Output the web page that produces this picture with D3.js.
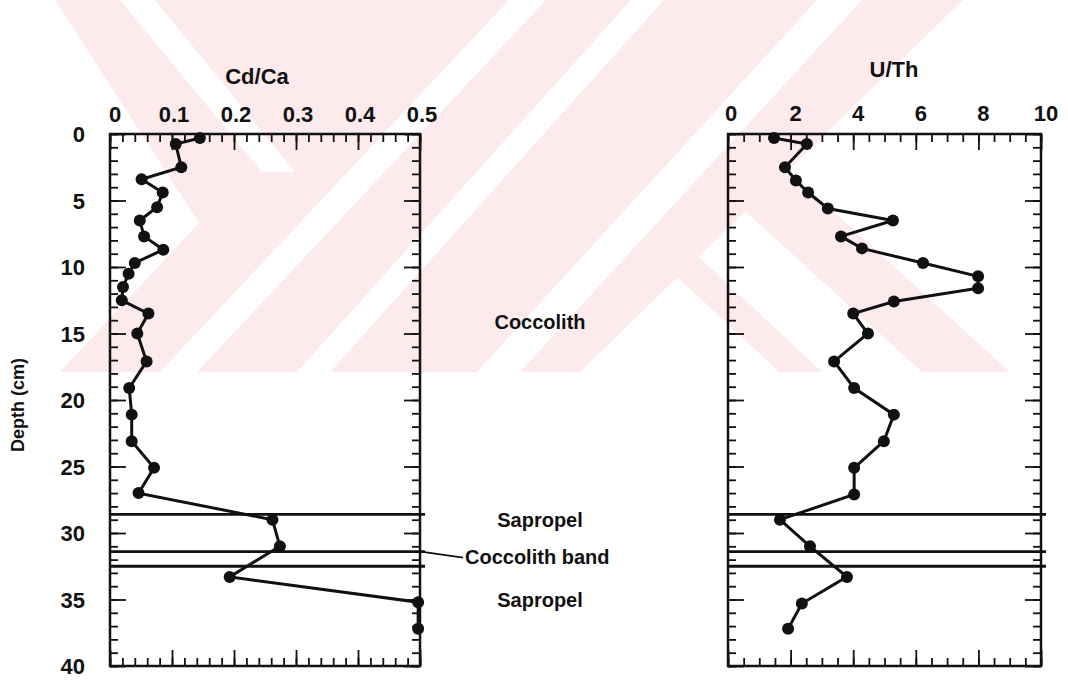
<!DOCTYPE html>
<html>
<head>
<meta charset="utf-8">
<title>Cd/Ca and U/Th vs depth</title>
<script src="https://d3js.org/d3.v7.min.js"></script>
<style>
  body { margin: 0; background: #fff; }
  text { font-family: "Liberation Sans", Arial, sans-serif; font-weight: bold; fill: #111; }
</style>
</head>
<body>
<svg id="chart"></svg>
<script>
// ---- data ----
var depthCd = [0.3, 0.75, 2.5, 3.4, 4.4, 5.5, 6.5, 7.7, 8.7, 9.7, 10.5, 11.5, 12.5, 13.5, 15, 17.1, 19.1, 21.1, 23.1, 25.1, 27, 29, 31, 33.3, 35.2, 37.2];
var cdCa    = [0.145, 0.106, 0.115, 0.051, 0.085, 0.076, 0.048, 0.055, 0.086, 0.040, 0.030, 0.021, 0.019, 0.062, 0.044, 0.059, 0.031, 0.035, 0.035, 0.071, 0.046, 0.262, 0.274, 0.193, 0.497, 0.497];

var depthUTh = [0.3, 0.75, 2.5, 3.5, 4.4, 5.6, 6.5, 7.7, 8.6, 9.7, 10.7, 11.6, 12.6, 13.5, 15, 17.1, 19.1, 21.1, 23.1, 25.1, 27.1, 29, 31, 33.3, 35.3, 37.2];
var uTh      = [1.47, 2.52, 1.82, 2.17, 2.56, 3.19, 5.27, 3.61, 4.28, 6.23, 7.99, 7.99, 5.30, 4.0, 4.47, 3.39, 4.03, 5.3, 4.98, 4.03, 4.03, 1.66, 2.62, 3.8, 2.36, 1.92];

var bandDepths = [28.6, 31.4, 32.5];
var depthTicks = [0, 5, 10, 15, 20, 25, 30, 35, 40];
var cdTicks = [0, 0.1, 0.2, 0.3, 0.4, 0.5];
var uThTicks = [0, 2, 4, 6, 8, 10];
var layerLabels = [
  {text: "Coccolith", depth: 14.1},
  {text: "Sapropel", depth: 29.0},
  {text: "Sapropel", depth: 35.0}
];

var W = 1068, H = 683;
var svg = d3.select("#chart").attr("width", W).attr("height", H);
svg.append("rect").attr("width", W).attr("height", H).attr("fill", "#fff");

// faint pink watermark of the scanned page, cut off at y=372
svg.append("clipPath").attr("id", "wmclip").append("rect")
  .attr("x", 0).attr("y", 0).attr("width", W).attr("height", 372);
var wm = svg.append("g").attr("clip-path", "url(#wmclip)");
var wmPink = [
  [[55,0],[963,0],[580,372],[60,372],[199,223]],
  [[381,0],[424,0],[822,372],[779,372]],
  [[513,0],[601,0],[1010,372],[922,372]]
];
var wmWhite = [
  [[120,0],[155,0],[295,172],[262,172]],
  [[509,0],[546,0],[197,372],[160,372]],
  [[631,0],[664,0],[330,372],[297,372]],
  [[817,0],[862,0],[520,372],[477,372]]
];
wmPink.forEach(function(p){ wm.append("polygon").attr("points", p.join(" ")).attr("fill", "#fdeaed"); });
wmWhite.forEach(function(p){ wm.append("polygon").attr("points", p.join(" ")).attr("fill", "#fff"); });

var y = d3.scaleLinear().domain([0, 40]).range([134, 666]);

function panel(opts){
  var x = d3.scaleLinear().domain(opts.domain).range(opts.range);
  var g = svg.append("g");
  var x0 = opts.range[0], x1 = opts.range[1], y0 = y(0), y1 = y(40);

  var minorX = d3.range(opts.domain[0], opts.domain[1] + 1e-9, opts.minor);
  var minorY = d3.range(0, 40.001, 1);
  // inward ticks on all four sides
  function ticksAxis(axis, scale, vals, size, tr){
    g.append("g").attr("transform", tr)
      .call(axis(scale).tickValues(vals).tickSize(-size).tickFormat(""))
      .call(function(s){ s.select(".domain").remove(); s.selectAll("line").attr("stroke", "#111").attr("stroke-width", 1.8); });
  }
  ticksAxis(d3.axisTop, x, minorX, 8, "translate(0," + y0 + ")");
  ticksAxis(d3.axisBottom, x, minorX, 8, "translate(0," + y1 + ")");
  ticksAxis(d3.axisTop, x, opts.ticks, 16, "translate(0," + y0 + ")");
  ticksAxis(d3.axisBottom, x, opts.ticks, 16, "translate(0," + y1 + ")");
  ticksAxis(d3.axisLeft, y, minorY, 8, "translate(" + x0 + ",0)");
  ticksAxis(d3.axisRight, y, minorY, 8, "translate(" + x1 + ",0)");
  ticksAxis(d3.axisLeft, y, depthTicks, 16, "translate(" + x0 + ",0)");
  ticksAxis(d3.axisRight, y, depthTicks, 16, "translate(" + x1 + ",0)");

  g.append("rect").attr("x", x0).attr("y", y0).attr("width", x1 - x0).attr("height", y1 - y0)
    .attr("fill", "none").attr("stroke", "#111").attr("stroke-width", 2.5);

  g.selectAll(".tl").data(opts.ticks).enter().append("text")
    .attr("x", function(d){ return x(d) + opts.labelDx(d); }).attr("y", opts.labelY)
    .attr("text-anchor", "middle").style("font-size", "22px")
    .text(opts.fmt);

  g.append("text").attr("x", opts.titleX).attr("y", opts.titleY)
    .attr("text-anchor", "middle").style("font-size", "22px").text(opts.title);

  // horizontal layer boundaries
  g.selectAll(".band").data(bandDepths).enter().append("line")
    .attr("x1", x0).attr("x2", x1 + 5)
    .attr("y1", function(d){ return y(d); }).attr("y2", function(d){ return y(d); })
    .attr("stroke", "#111").attr("stroke-width", 2.8);

  var pts = opts.depth.map(function(d, i){ return [opts.values[i], d]; });
  g.append("path").datum(pts)
    .attr("d", d3.line().x(function(d){ return x(d[0]); }).y(function(d){ return y(d[1]); }))
    .attr("fill", "none").attr("stroke", "#111").attr("stroke-width", 3);
  g.selectAll(".pt").data(pts).enter().append("circle")
    .attr("cx", function(d){ return x(d[0]); }).attr("cy", function(d){ return y(d[1]); })
    .attr("r", 6).attr("fill", "#111");
  return x;
}

panel({domain: [0, 0.5], range: [110, 420], minor: 0.02, ticks: cdTicks,
  fmt: function(d){ return d === 0 ? "0" : d3.format(".1f")(d); },
  labelDx: function(d){ return d === 0 ? 5 : 2; }, labelY: 122,
  title: "Cd/Ca", titleX: 257, titleY: 84, depth: depthCd, values: cdCa});
panel({domain: [0, 10], range: [728, 1041], minor: 0.5, ticks: uThTicks,
  fmt: function(d){ return d; },
  labelDx: function(d){ return d === 0 ? 3 : 5; }, labelY: 121,
  title: "U/Th", titleX: 894, titleY: 77, depth: depthUTh, values: uTh});

// depth axis labels
svg.selectAll(".dl").data(depthTicks).enter().append("text")
  .attr("x", 85).attr("y", function(d){ return y(d) + 8; })
  .attr("text-anchor", "end").style("font-size", "22px").text(function(d){ return d; });
svg.append("text").attr("transform", "translate(24,405) rotate(-90)")
  .attr("text-anchor", "middle").style("font-size", "18px").text("Depth (cm)");

// layer names between the panels
svg.selectAll(".ll").data(layerLabels).enter().append("text")
  .attr("x", 540).attr("y", function(d){ return y(d.depth) + 7; })
  .attr("text-anchor", "middle").style("font-size", "20px").text(function(d){ return d.text; });
svg.append("line").attr("x1", 421).attr("y1", y(31.4)).attr("x2", 463).attr("y2", y(31.4) + 6)
  .attr("stroke", "#111").attr("stroke-width", 2);
svg.append("text").attr("x", 465).attr("y", y(31.4) + 12).style("font-size", "20px").text("Coccolith band");
</script>
</body>
</html>
